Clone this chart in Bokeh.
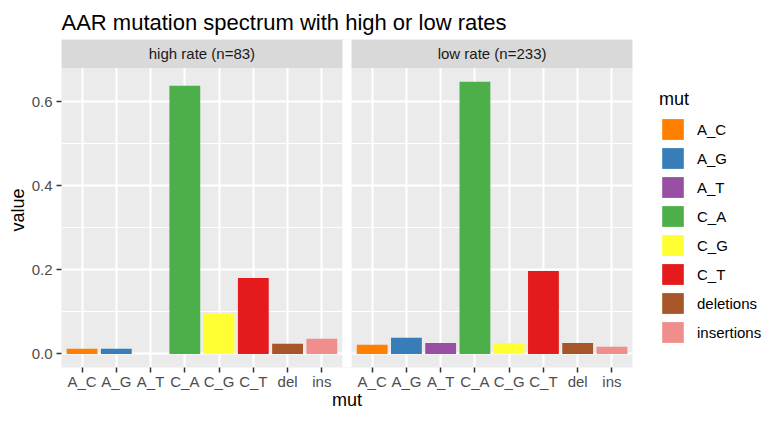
from bokeh.plotting import figure
from bokeh.models import (ColumnDataSource, Range1d, FixedTicker, BoxAnnotation,
                          Label, Legend, LegendItem, PrintfTickFormatter, Title)
from bokeh.embed import file_html
from bokeh.resources import INLINE

# ---- data ----
mutations = ["A_C", "A_G", "A_T", "C_A", "C_G", "C_T", "del", "ins"]
legend_labels = ["A_C", "A_G", "A_T", "C_A", "C_G", "C_T", "deletions", "insertions"]
colors = ["#FF7F00", "#377EB8", "#984EA3", "#4DAF4A", "#FFFF33", "#E41A1C", "#A65628", "#F08E8B"]
panels = ["high rate (n=83)", "low rate (n=233)"]
high_rate = [0.0120, 0.0120, 0.0, 0.6386, 0.0964, 0.1807, 0.0241, 0.0361]
low_rate = [0.0215, 0.0386, 0.0258, 0.6481, 0.0258, 0.1974, 0.0258, 0.0172]
y_ticks = [0.0, 0.2, 0.4, 0.6]
y_minor = [0.1, 0.3, 0.5]

FONT = "Liberation Sans"

# ---- layout helpers (ggplot-like facets on one frame) ----
n = len(mutations)
expand = 0.6
gap = 0.27
span = n - 1 + 2 * expand
step = span + gap
series = [high_rate, low_rate]

xs, tops, cols, labs = [], [], [], []
tick_pos, tick_lab = [], []
for k, vals in enumerate(series):
    for i, v in enumerate(vals):
        x = 1 + i + k * step
        xs.append(x)
        tops.append(v)
        cols.append(colors[i])
        labs.append(legend_labels[i])
        tick_pos.append(x)
        tick_lab.append(mutations[i])

vmax = max(max(s) for s in series)
y_lo = -0.05 * vmax
y_panel_top = vmax * 1.05
strip_h = 0.068
y_hi = y_panel_top + strip_h

x_lo = 1 - expand
x_hi = n + expand + step

p = figure(frame_width=571, frame_height=328,
           x_range=Range1d(x_lo, x_hi), y_range=Range1d(y_lo, y_hi),
           output_backend="svg", toolbar_location=None,
           min_border_left=61, min_border_right=149, min_border_top=39,
           min_border_bottom=0,
           title="AAR mutation spectrum with high or low rates")

p.title.text_font = FONT
p.title.text_font_size = "22px"
p.title.text_font_style = "normal"
p.title.text_color = "black"
p.title.align = "left"
p.title.offset = 0
p.title.standoff = 10

p.background_fill_color = "#EBEBEB"
p.border_fill_color = "white"
p.outline_line_color = None

src = ColumnDataSource(dict(x=xs, top=tops, color=cols, label=labs))
r = p.vbar(x="x", top="top", bottom=0, width=0.9, fill_color="color",
           line_color=None, source=src)

# grid
p.xgrid.grid_line_color = "white"
p.xgrid.grid_line_width = 2
p.ygrid.grid_line_color = "white"
p.ygrid.grid_line_width = 2
p.ygrid.minor_grid_line_color = "white"
p.ygrid.minor_grid_line_width = 1

# y axis
p.yaxis.ticker = FixedTicker(ticks=y_ticks, minor_ticks=y_minor)
p.yaxis.formatter = PrintfTickFormatter(format="%.1f")
p.yaxis.axis_line_color = None
p.yaxis.major_tick_out = 5
p.yaxis.major_tick_in = 0
p.yaxis.major_tick_line_color = "#333333"
p.yaxis.major_tick_line_width = 1.5
p.yaxis.minor_tick_line_color = None
p.yaxis.major_label_text_font = FONT
p.yaxis.major_label_text_font_size = "15px"
p.yaxis.major_label_text_color = "#4D4D4D"
p.yaxis.major_label_standoff = 4

# x axis
p.xaxis.ticker = FixedTicker(ticks=tick_pos)
p.xaxis.major_label_overrides = {x: l for x, l in zip(tick_pos, tick_lab)}
p.xaxis.axis_line_color = None
p.xaxis.major_tick_out = 5
p.xaxis.major_tick_in = 0
p.xaxis.major_tick_line_color = "#333333"
p.xaxis.major_tick_line_width = 1.5
p.xaxis.minor_tick_line_color = None
p.xaxis.major_label_text_font = FONT
p.xaxis.major_label_text_font_size = "15px"
p.xaxis.major_label_text_color = "#4D4D4D"
p.xaxis.major_label_standoff = 0
p.xaxis.axis_label = "mut"
p.xaxis.axis_label_text_font = FONT
p.xaxis.axis_label_text_font_size = "18px"
p.xaxis.axis_label_text_font_style = "normal"
p.xaxis.axis_label_text_color = "black"
p.xaxis.axis_label_standoff = -3

# white gap between facets
p.add_layout(BoxAnnotation(left=x_lo + span, right=x_lo + step, fill_color="white",
                           fill_alpha=1, line_color=None))
# strips
for k, name in enumerate(panels):
    left = x_lo + k * step
    p.add_layout(BoxAnnotation(left=left, right=left + span, bottom=y_panel_top,
                               fill_color="#D9D9D9", fill_alpha=1, line_color=None))
    p.add_layout(Label(x=left + span / 2, y=y_panel_top + strip_h / 2, text=name,
                       text_align="center", text_baseline="middle",
                       text_font=FONT, text_font_size="15px", text_color="#1A1A1A"))

# y axis title (vertical title on the left side)
p.add_layout(Title(text="value", align="left", offset=136, standoff=1,
                   text_font=FONT, text_font_size="18px", text_font_style="normal",
                   text_color="black"), "left")

items = [LegendItem(label=legend_labels[i], renderers=[r], index=i) for i in range(n)]
legend = Legend(items=items, location=(27, 22), title="mut",
                margin=0, padding=0, spacing=3, glyph_width=27, glyph_height=26,
                label_standoff=11, label_text_font=FONT, label_text_font_size="15px",
                label_text_color="black", title_text_font=FONT,
                title_text_font_size="18px", title_text_font_style="normal",
                title_text_color="black", title_standoff=6,
                border_line_color=None, background_fill_alpha=0)
p.add_layout(legend, "right")

open("out.html", "w").write(file_html(p, INLINE))
